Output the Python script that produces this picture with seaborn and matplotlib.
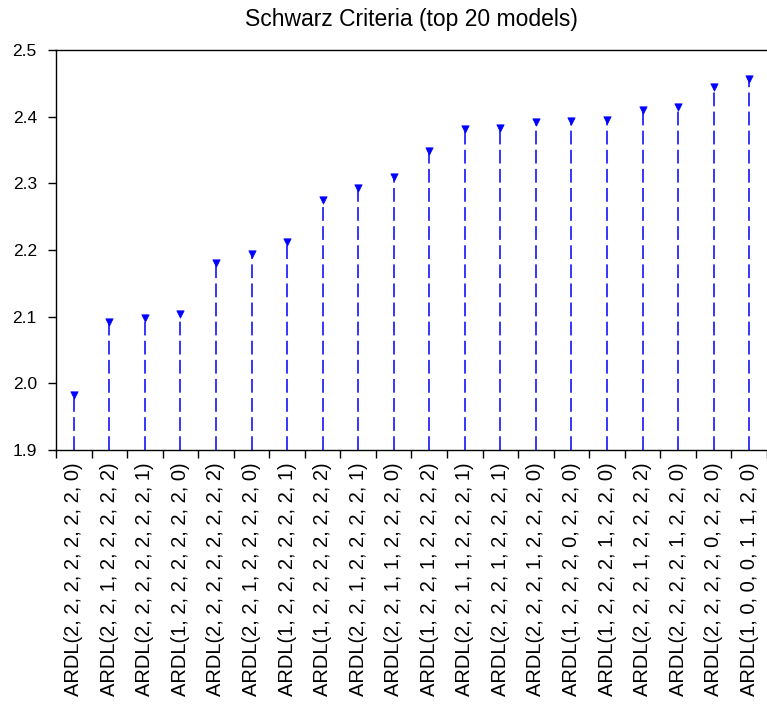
import matplotlib
matplotlib.use("Agg")
import matplotlib.pyplot as plt
import seaborn as sns
import pandas as pd
import numpy as np

models = [
    "ARDL(2, 2, 2, 2, 2, 2, 2, 0)",
    "ARDL(2, 2, 1, 2, 2, 2, 2, 2)",
    "ARDL(2, 2, 2, 2, 2, 2, 2, 1)",
    "ARDL(1, 2, 2, 2, 2, 2, 2, 0)",
    "ARDL(2, 2, 2, 2, 2, 2, 2, 2)",
    "ARDL(2, 2, 1, 2, 2, 2, 2, 0)",
    "ARDL(1, 2, 2, 2, 2, 2, 2, 1)",
    "ARDL(1, 2, 2, 2, 2, 2, 2, 2)",
    "ARDL(2, 2, 1, 2, 2, 2, 2, 1)",
    "ARDL(2, 2, 1, 1, 2, 2, 2, 0)",
    "ARDL(1, 2, 2, 1, 2, 2, 2, 2)",
    "ARDL(2, 2, 1, 1, 2, 2, 2, 1)",
    "ARDL(2, 2, 2, 1, 2, 2, 2, 1)",
    "ARDL(2, 2, 2, 1, 2, 2, 2, 0)",
    "ARDL(1, 2, 2, 2, 0, 2, 2, 0)",
    "ARDL(1, 2, 2, 2, 1, 2, 2, 0)",
    "ARDL(2, 2, 2, 1, 2, 2, 2, 2)",
    "ARDL(2, 2, 2, 2, 1, 2, 2, 0)",
    "ARDL(2, 2, 2, 2, 0, 2, 2, 0)",
    "ARDL(1, 0, 0, 0, 1, 1, 2, 0)",
]
schwarz = [1.982, 2.092, 2.098, 2.104, 2.180, 2.194, 2.212, 2.275, 2.293, 2.309,
           2.348, 2.381, 2.383, 2.392, 2.393, 2.395, 2.410, 2.414, 2.445, 2.456]
yticks = [1.9, 2.0, 2.1, 2.2, 2.3, 2.4, 2.5]

df = pd.DataFrame({"model": models, "sc": schwarz})

sns.set_style("white")
plt.rcParams["font.family"] = ["Liberation Sans", "DejaVu Sans"]
plt.rcParams["text.color"] = "black"
plt.rcParams["xtick.color"] = "black"
plt.rcParams["ytick.color"] = "black"

fig = plt.figure(figsize=(7.67, 7.04), dpi=100)
ax = fig.add_axes([0.073, 0.361, 0.927, 0.568])

ymin = yticks[0]
pos = np.arange(len(models))
ax.vlines(pos, ymin, df["sc"], colors="#0000ff", linestyles=(0, (9, 3.5)), linewidth=1.1)
sns.scatterplot(data=df, x="model", y="sc", marker="v", color="#0000ff", s=28,
                edgecolor="#0000ff", linewidth=0.5, ax=ax, zorder=3)

ax.set_xlim(-0.5, len(models) - 0.5)
ax.set_ylim(yticks[0], yticks[-1])
ax.set_yticks(yticks)
ax.set_yticklabels([f"{v:.1f}" for v in yticks], fontsize=12.5, color="black")
ax.set_xticks(pos)
ax.set_xticklabels(models, rotation=90, fontsize=14.5, color="black")
ax.set_xticks(np.arange(len(models) + 1) - 0.5, minor=True)
ax.tick_params(axis="x", which="major", bottom=True, length=0, pad=9)
ax.tick_params(axis="x", which="minor", bottom=True, length=5.8, width=1, color="black", direction="out")
ax.tick_params(axis="y", which="major", left=True, length=5.8, width=1, color="black", direction="out", pad=8)
ax.set_xlabel("")
ax.set_ylabel("")

for side in ["left", "top", "bottom"]:
    ax.spines[side].set_visible(True)
    ax.spines[side].set_color("black")
    ax.spines[side].set_linewidth(1)
ax.spines["right"].set_visible(False)

ax.set_title("Schwarz Criteria (top 20 models)", fontsize=16.5, pad=17, color="black")

fig.savefig("out.png", dpi=100)
